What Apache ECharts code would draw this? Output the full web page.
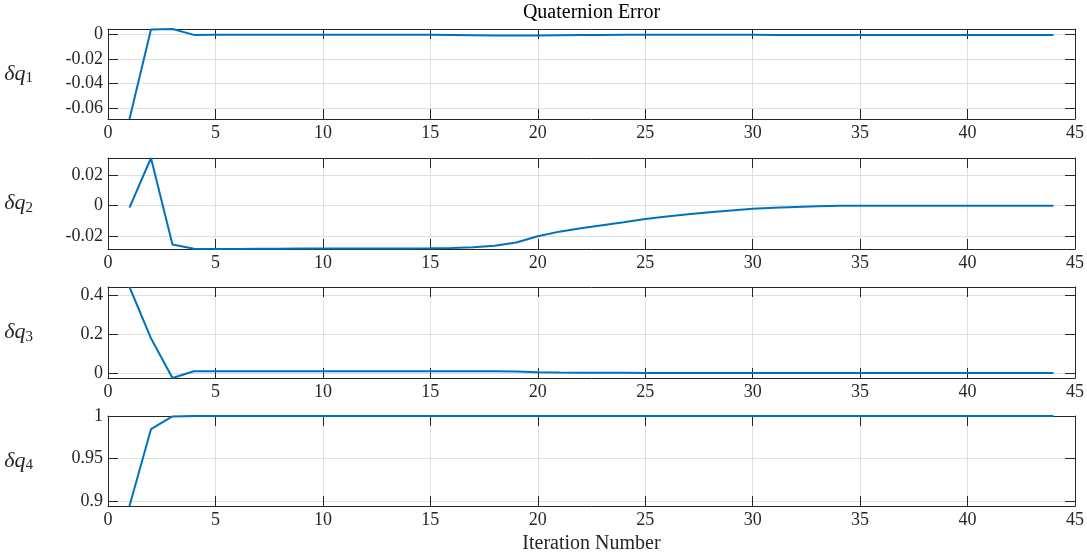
<!DOCTYPE html>
<html>
<head>
<meta charset="utf-8">
<script src="https://cdn.jsdelivr.net/npm/echarts@6/dist/echarts.min.js"></script>
<style>
  html, body { margin: 0; padding: 0; background: #fff; }
  #chart { width: 1087px; height: 557px; }
</style>
</head>
<body>
<div id="chart"></div>
<script>
// iteration index shared by all four panels
const iters = [1, 2, 3, 4, 5, 6, 7, 8, 9, 10, 11, 12, 13, 14, 15, 16, 17, 18, 19, 20, 21, 22,
  23, 24, 25, 26, 27, 28, 29, 30, 31, 32, 33, 34, 35, 36, 37, 38, 39, 40, 41, 42, 43, 44]

const dq1 = [-0.0688, 0.0042, 0.0046, -0.0002, 0, 0, 0, 0, 0, 0, 0, 0, 0, 0, -0.0001, -0.0002,
  -0.0004, -0.0007, -0.0008, -0.0006, -0.0004, -0.0003, -0.0002, -0.0001, -0.0001, -0.0001,
  -0.0001, -0.0001, -0.0001, -0.0001, -0.0002, -0.0002, -0.0002, -0.0002, -0.0002, -0.0002,
  -0.0002, -0.0002, -0.0002, -0.0002, -0.0002, -0.0002, -0.0002, -0.0002]

const dq2 = [-0.0013, 0.0316, -0.0257, -0.0286, -0.0287, -0.0287, -0.0286, -0.0285, -0.0284,
  -0.0283, -0.0283, -0.0283, -0.0283, -0.0283, -0.0282, -0.0280, -0.0276, -0.0266, -0.0244,
  -0.0203, -0.0172, -0.0150, -0.0130, -0.0110, -0.0088, -0.0072, -0.0057, -0.0044, -0.0032,
  -0.0021, -0.0014, -0.0008, -0.0004, -0.0001, 0, 0, 0, 0, 0, 0, 0, 0, 0, 0]

const dq3 = [0.4436, 0.179, -0.026, 0.009, 0.009, 0.009, 0.009, 0.009, 0.009, 0.009, 0.009,
  0.009, 0.009, 0.009, 0.009, 0.009, 0.009, 0.0085, 0.007, 0.004, 0.0025, 0.0015, 0.001, 0.0005,
  0.0002, 0.0002, 0.0002, 0.0002, 0.0002, 0.0002, 0.0002, 0.0002, 0.0002, 0.0002, 0.0002,
  0.0002, 0.0002, 0.0002, 0.0002, 0.0002, 0.0002, 0.0002, 0.0002, 0.0002]

const dq4 = [0.8946, 0.9846, 0.9995, 0.99995, 1, 1, 1, 1, 1, 1, 1, 1, 1, 1, 1, 1, 1, 1, 1, 1,
  1, 1, 1, 1, 1, 1, 1, 1, 1, 1, 1, 1, 1, 1, 1, 1, 1, 1, 1, 1, 1, 1, 1, 1]

const yTicks1 = [-0.06, -0.04, -0.02, 0]
const yTicks2 = [-0.02, 0, 0.02]
const yTicks3 = [0, 0.2, 0.4]
const yTicks4 = [0.9, 0.95, 1]

const labels = ['1', '2', '3', '4']

const font = 'Liberation Serif'
const ink = '#262626'
const gridColor = '#dfdfdf'

const panels = [
  { data: dq1, ticks: yTicks1, top: 29, height: 90 },
  { data: dq2, ticks: yTicks2, top: 158, height: 91 },
  { data: dq3, ticks: yTicks3, top: 287, height: 91 },
  { data: dq4, ticks: yTicks4, top: 416, height: 90 }
]

const fmt = (v) => String(parseFloat(Number(v).toFixed(4)))

const grid = []
const xAxis = []
const yAxis = []
const series = []

panels.forEach((p, i) => {
  grid.push({ left: 108, right: 12, top: p.top, height: p.height, outerBoundsMode: 'none', containLabel: false })
  const ymin = Math.min(...p.data)
  const ymax = Math.max(...p.data)

  // bottom x axis (labels) and top x axis (box + ticks)
  xAxis.push({
    gridIndex: i, type: 'value', min: 0, max: 45, interval: 5, position: 'bottom',
    axisLine: { onZero: false, lineStyle: { color: ink, width: 1 } },
    axisTick: { inside: true, length: 10, lineStyle: { color: ink } },
    axisLabel: { color: ink, fontFamily: font, fontSize: 18, margin: 5 },
    splitLine: { show: true, lineStyle: { color: gridColor, width: 1 } },
    name: i === 3 ? 'Iteration Number' : '',
    nameLocation: 'middle', nameGap: 28,
    nameTextStyle: { color: ink, fontFamily: font, fontSize: 20 }
  })
  xAxis.push({
    gridIndex: i, type: 'value', min: 0, max: 45, interval: 5, position: 'top',
    axisLine: { onZero: false, lineStyle: { color: ink, width: 1 } },
    axisTick: { inside: true, length: 10, lineStyle: { color: ink } },
    axisLabel: { show: false },
    splitLine: { show: false },
    name: i === 0 ? 'Quaternion Error' : '',
    nameLocation: 'middle', nameGap: 6,
    nameTextStyle: { color: '#000', fontFamily: font, fontSize: 20 }
  })

  // left y axis (labels, grid) and right y axis (box + ticks)
  yAxis.push({
    gridIndex: i, type: 'value', min: ymin, max: ymax, position: 'left',
    axisLine: { show: true, onZero: false, lineStyle: { color: ink, width: 1 } },
    axisTick: { show: true, inside: true, length: 10, customValues: p.ticks, lineStyle: { color: ink } },
    axisLabel: { customValues: p.ticks, color: ink, fontFamily: font, fontSize: 18, margin: 5, formatter: fmt },
    splitLine: { show: true, lineStyle: { color: gridColor, width: 1 } },
    name: '{i|δq}{s|' + labels[i] + '}',
    nameLocation: 'middle', nameRotate: 0, nameGap: 75,
    nameTextStyle: {
      rich: {
        i: { fontFamily: font, fontStyle: 'italic', fontSize: 22, color: ink, lineHeight: 24 },
        s: { fontFamily: font, fontSize: 15, color: ink, lineHeight: 24, verticalAlign: 'bottom', padding: [8, 0, 0, 0] }
      }
    }
  })
  yAxis.push({
    gridIndex: i, type: 'value', min: ymin, max: ymax, position: 'right',
    axisLine: { show: true, onZero: false, lineStyle: { color: ink, width: 1 } },
    axisTick: { show: true, inside: true, length: 10, customValues: p.ticks, lineStyle: { color: ink } },
    axisLabel: { show: false },
    splitLine: { show: false }
  })

  series.push({
    type: 'line',
    xAxisIndex: i * 2,
    yAxisIndex: i * 2,
    data: iters.map((x, k) => [x, p.data[k]]),
    showSymbol: false,
    lineStyle: { color: '#0072BD', width: 2 },
    clip: false
  })
})

const chart = echarts.init(document.getElementById('chart'), null, { renderer: 'canvas' })
chart.setOption({
  animation: false,
  backgroundColor: '#fff',
  grid, xAxis, yAxis, series
})
</script>
</body>
</html>
